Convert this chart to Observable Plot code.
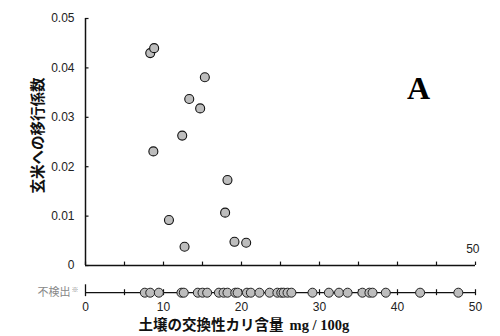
<!DOCTYPE html>
<html><head><meta charset="utf-8">
<script src="https://cdn.jsdelivr.net/npm/d3@7"></script>
<script src="https://cdn.jsdelivr.net/npm/@observablehq/plot@0.6"></script>
<style>body{margin:0;background:#fff}</style>
</head><body><div id="chart"></div>
<script>
// Detected samples: soil exchangeable K (mg/100g) vs transfer coefficient
const detectedK = [8.3, 8.8, 15.3, 13.3, 14.7, 12.4, 8.7, 18.2, 17.9, 10.7, 12.7, 19.1, 20.6];
const detectedTF = [0.0430, 0.0440, 0.0381, 0.0337, 0.0318, 0.0263, 0.0231, 0.0173, 0.0107, 0.0092, 0.0038, 0.0048, 0.0046];
// Not-detected samples (soil K only)
const notDetectedK = [7.6, 8.3, 9.4, 12.3, 12.6, 14.4, 15.0, 15.6, 17.1, 17.7, 18.2, 19.2, 19.5, 20.7, 21.2, 22.3, 23.6, 24.6, 25.1, 25.4, 25.9, 26.4, 29.1, 31.2, 32.5, 33.6, 35.5, 36.4, 36.8, 38.5, 42.9, 47.8];
const yTicks = [0, 0.01, 0.02, 0.03, 0.04, 0.05];
const xLabelTicks = [0, 10, 20, 30, 40, 50];
const xMinorTicks = [0, 5, 10, 15, 20, 25, 30, 35, 40, 45, 50];
const yTitle = "玄米への移行係数";
const xTitleJa = "土壌の交換性カリ含量";
const xTitleUnit = "mg / 100g";
const ndLabel = "不検出";
const panelLabel = "A";

const STRIP = -0.0055;
const pts = detectedK.map((k, i) => ({k, tf: detectedTF[i]}));
const dotFill = "#bdbdbd";

const chart = Plot.plot({
  width: 500,
  height: 336,
  marginTop: 18,
  marginBottom: 43.8,
  marginLeft: 85,
  marginRight: 25,
  x: {domain: [0, 50]},
  y: {domain: [STRIP, 0.05]},
  style: {fontFamily: "'Liberation Sans', 'Noto Sans CJK JP', sans-serif", background: "#fff", color: "#222"},
  marks: [
    // y axis labels
    Plot.axisY({ticks: yTicks, tickSize: 0, tickPadding: 11, fontSize: 12,
      tickFormat: d => d === 0 ? "0" : d.toFixed(2), label: null}),
    // x axis labels (below strip)
    Plot.axisX({anchor: "bottom", ticks: xLabelTicks, tickSize: 0, tickPadding: 10, fontSize: 12, label: null}),
    // y axis line and inward ticks
    Plot.ruleX([0], {y1: 0, y2: 0.05, stroke: "#111", strokeWidth: 1.5}),
    Plot.ruleY(yTicks, {x1: 0, x2: 0.45, stroke: "#111", strokeWidth: 1.2}),
    // upper x axis line with upward ticks
    Plot.ruleY([0], {x1: 0, x2: 50, stroke: "#111", strokeWidth: 1.5}),
    Plot.ruleX(xMinorTicks, {y1: 0, y2: 0.0007, stroke: "#111", strokeWidth: 1.2}),
    // strip line and ticks
    Plot.ruleY([STRIP], {x1: 0, x2: 50, stroke: "#111", strokeWidth: 1.3}),
    Plot.ruleX(xMinorTicks.filter(d => d > 0), {y1: STRIP - 0.0006, y2: STRIP + 0.0006, stroke: "#111", strokeWidth: 1.2}),
    Plot.ruleX([0], {y1: STRIP - 0.0008, y2: STRIP + 0.0016, stroke: "#111", strokeWidth: 1.3}),
    // data points
    Plot.dot(pts, {x: "k", y: "tf", r: 4.5, fill: dotFill, stroke: "#111", strokeWidth: 1.1}),
    Plot.dot(notDetectedK, {x: d => d, y: STRIP, r: 4.5, fill: dotFill, stroke: "#222", strokeWidth: 1}),
    // strip label
    Plot.text([ndLabel], {x: 0, y: STRIP, dx: -15, textAnchor: "end", fontSize: 11, fill: "#888"}),
    Plot.text(["※"], {x: 0, y: STRIP, dx: -14, dy: -3, textAnchor: "start", fontSize: 7, fill: "#888"}),
    // stray "50" label at top-right of upper axis
    Plot.text(["50"], {x: 50, y: 0, dx: 4, dy: -16, textAnchor: "end", fontSize: 12, fill: "#222"}),
    // panel label
    Plot.text([panelLabel], {x: 42.7, y: 0.0358, fontSize: 32, fontWeight: "bold", fontFamily: "'Liberation Serif', serif", fill: "#000"}),
    // axis titles
    Plot.text([yTitle], {frameAnchor: "left", textAnchor: "middle", dx: -47, dy: -20, rotate: -90, fontSize: 14.5, fontWeight: "bold", fontFamily: "'Noto Sans CJK JP', sans-serif", fill: "#111"}),
    Plot.text([xTitleJa], {x: 25.4, y: STRIP, dy: 33, textAnchor: "end", fontSize: 14.5, fontWeight: "bold", fontFamily: "'Noto Sans CJK JP', sans-serif", fill: "#111"}),
    Plot.text([xTitleUnit], {x: 25.4, y: STRIP, dy: 33, dx: 6, textAnchor: "start", fontSize: 14.5, fontWeight: "bold", fontFamily: "'Liberation Serif', serif", fill: "#111"})
  ]
});
document.getElementById("chart").appendChild(chart);
</script>
</body></html>
